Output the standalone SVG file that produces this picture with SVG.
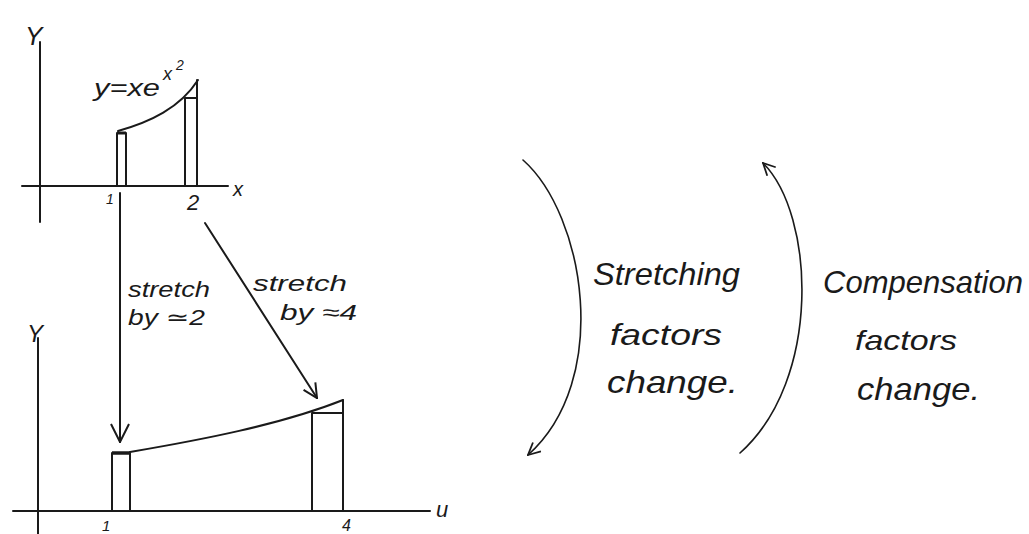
<svg xmlns="http://www.w3.org/2000/svg" width="1029" height="534" viewBox="0 0 1029 534">
<defs>
<style>
.ln{fill:none;stroke:#1a1a1a;stroke-width:2;stroke-linecap:round;stroke-linejoin:round}
.thin{fill:none;stroke:#1a1a1a;stroke-width:1.6;stroke-linecap:round}
.hw{font-family:"Liberation Sans","DejaVu Sans",sans-serif;fill:#1a1a1a;font-style:italic}
</style>
<marker id="ahBig" viewBox="0 0 20 20" refX="19" refY="10" markerWidth="20" markerHeight="20" markerUnits="userSpaceOnUse" orient="auto">
<path d="M1,1 L19,10 L1,19" fill="none" stroke="#1a1a1a" stroke-width="2"/>
</marker>
<marker id="ahMid" viewBox="0 0 16 16" refX="15" refY="8" markerWidth="16" markerHeight="16" markerUnits="userSpaceOnUse" orient="auto">
<path d="M1,1 L15,8 L1,15" fill="none" stroke="#1a1a1a" stroke-width="2"/>
</marker>
<marker id="ahSmall" viewBox="0 0 14 14" refX="13" refY="7" markerWidth="14" markerHeight="14" markerUnits="userSpaceOnUse" orient="auto">
<path d="M1,1 L13,7 L1,13" fill="none" stroke="#1a1a1a" stroke-width="1.8"/>
</marker>
</defs>
<rect width="1029" height="534" fill="#ffffff"/>

<g id="top-graph">
<line class="ln" x1="40" y1="42" x2="40" y2="222"/>
<line class="ln" x1="22" y1="186" x2="228" y2="186"/>
<text class="hw" x="25" y="45" font-size="26">Y</text>
<text class="hw" x="233" y="196" font-size="20">x</text>
<text class="hw" x="106" y="204" font-size="14">1</text>
<text class="hw" x="187" y="210" font-size="22">2</text>
<text class="hw" x="94" y="96" font-size="24" textLength="66" lengthAdjust="spacingAndGlyphs">y=xe</text>
<text class="hw" x="163" y="80" font-size="18">x</text>
<text class="hw" x="176" y="70" font-size="14">2</text>
<path class="ln" d="M117,186 L117,133 L126,133 L126,186"/>
<line x1="117" y1="133" x2="126" y2="133" stroke="#1a1a1a" stroke-width="3"/>
<path class="ln" d="M185,186 L185,98 L197,98"/>
<line class="ln" x1="197" y1="80" x2="197" y2="186"/>
<path class="ln" d="M118,131 C150,122 180,108 198,80"/>
</g>

<g id="bottom-graph">
<line class="ln" x1="38" y1="338" x2="38" y2="534"/>
<line class="ln" x1="13" y1="511" x2="430" y2="511"/>
<text class="hw" x="27" y="342" font-size="24">Y</text>
<text class="hw" x="436" y="517" font-size="22">u</text>
<text class="hw" x="102" y="531" font-size="15">1</text>
<text class="hw" x="342" y="531" font-size="16">4</text>
<path class="ln" d="M112,511 L112,453 L130,453 L130,511"/>
<line x1="112" y1="453" x2="130" y2="453" stroke="#1a1a1a" stroke-width="3.5"/>
<path class="ln" d="M312,511 L312,413 L343,413"/>
<line class="ln" x1="343" y1="400" x2="343" y2="511"/>
<path class="ln" d="M130,452 C200,440 280,425 343,400"/>
</g>

<g id="label-stretch-1">
<text class="hw" x="128" y="297" font-size="22" textLength="82" lengthAdjust="spacingAndGlyphs">stretch</text>
<text class="hw" x="128" y="325" font-size="22" textLength="77" lengthAdjust="spacingAndGlyphs">by ≃2</text>
</g>
<g id="label-stretch-2">
<text class="hw" x="253" y="291" font-size="22" textLength="94" lengthAdjust="spacingAndGlyphs">stretch</text>
<text class="hw" x="280" y="320" font-size="22" textLength="77" lengthAdjust="spacingAndGlyphs">by ≈4</text>
</g>

<g id="label-stretching">
<text class="hw" x="593" y="285" font-size="32" textLength="147" lengthAdjust="spacingAndGlyphs">Stretching</text>
<text class="hw" x="610" y="345" font-size="30" textLength="112" lengthAdjust="spacingAndGlyphs">factors</text>
<text class="hw" x="607" y="393" font-size="32" textLength="131" lengthAdjust="spacingAndGlyphs">change.</text>
</g>
<g id="label-compensation">
<text class="hw" x="823" y="293" font-size="32" textLength="200" lengthAdjust="spacingAndGlyphs">Compensation</text>
<text class="hw" x="855" y="350" font-size="28" textLength="102" lengthAdjust="spacingAndGlyphs">factors</text>
<text class="hw" x="857" y="400" font-size="32" textLength="123" lengthAdjust="spacingAndGlyphs">change.</text>
</g>

<g id="connectors">
<line class="ln" x1="120" y1="193" x2="120" y2="442" marker-end="url(#ahBig)"/>
<line class="ln" x1="205" y1="223" x2="317" y2="398" marker-end="url(#ahMid)"/>
<path class="thin" d="M523,160 C585,215 612,380 528,455" marker-end="url(#ahSmall)"/>
<path class="thin" d="M740,453 C822,380 815,215 763,163" marker-end="url(#ahSmall)"/>
</g>
</svg>
